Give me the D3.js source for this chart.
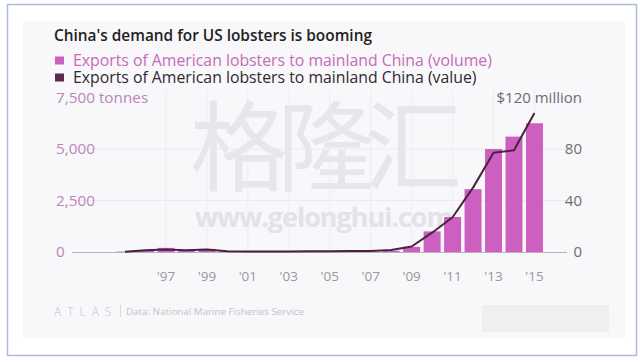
<!DOCTYPE html>
<html>
<head>
<meta charset="utf-8">
<script src="https://cdn.jsdelivr.net/npm/d3@7"></script>
<style>
  body { margin: 0; background: #fff; }
  svg { display: block; font-family: "Open Sans", sans-serif; }
</style>
</head>
<body>
<svg id="chart" width="640" height="362"></svg>
<script>
// data
var years = [1995, 1996, 1997, 1998, 1999, 2000, 2001, 2002, 2003, 2004,
             2005, 2006, 2007, 2008, 2009, 2010, 2011, 2012, 2013, 2014, 2015];
// volume, tonnes
var volume = [20, 60, 200, 60, 150, 30, 15, 15, 15, 15,
              15, 20, 20, 60, 250, 1000, 1700, 3050, 5000, 5600, 6250];
// value, $ million
var value = [0.2, 1.4, 2.0, 1.3, 2.0, 0.6, 0.4, 0.4, 0.4, 0.5,
             0.6, 0.8, 0.7, 1.6, 4.3, 15, 27, 50, 77, 79, 108];
var yearTicks = [1997, 1999, 2001, 2003, 2005, 2007, 2009, 2011, 2013, 2015];
var volumeTicks = [0, 2500, 5000, 7500];
var valueTicks = [0, 40, 80, 120];

var pink = "#cd5fc1", plum = "#4a2340";

var svg = d3.select("#chart");

// frame + grey panel
svg.append("rect").attr("x", 7.5).attr("y", 4.5).attr("width", 629).attr("height", 351)
    .attr("fill", "#fff").attr("stroke", "#aebbe0").attr("stroke-width", 1.5);
svg.append("rect").attr("x", 23).attr("y", 21).attr("width", 602).attr("height", 317)
    .attr("fill", "#f8f7fa");

// scales
var x = d3.scaleBand().domain(years).range([114.8, 544.7]).paddingInner(0.17).paddingOuter(0.085);
var yVol = d3.scaleLinear().domain([0, 7500]).range([252, 97.5]);
var yVal = d3.scaleLinear().domain([0, 120]).range([252, 97.5]);
var cx = function (d) { return x(d) + x.bandwidth() / 2; };

// faint grid
svg.append("g").selectAll("line").data(yearTicks).enter().append("line")
    .attr("x1", cx).attr("x2", cx).attr("y1", 90).attr("y2", 252)
    .attr("stroke", "#eeedf1").attr("stroke-width", 1);
svg.append("g").selectAll("line").data([2500, 5000]).enter().append("line")
    .attr("x1", 72).attr("x2", 567)
    .attr("y1", function (d) { return yVol(d); }).attr("y2", function (d) { return yVol(d); })
    .attr("stroke", "#ebeaee").attr("stroke-width", 1);

// watermark
svg.append("text").attr("x", 190).attr("y", 183)
    .attr("font-family", "Noto Sans CJK SC").attr("font-weight", 400).attr("font-size", 98)
    .attr("textLength", 272).attr("fill", "#e7e6ea").text("格隆汇");
svg.append("text").attr("x", 195).attr("y", 227)
    .attr("font-weight", 700).attr("font-size", 27)
    .attr("textLength", 258).attr("fill", "#e3e2e6").text("www.gelonghui.com");

// zero line
svg.append("line").attr("x1", 72).attr("x2", 567).attr("y1", 252.5).attr("y2", 252.5)
    .attr("stroke", "#b4b3b8").attr("stroke-width", 1);

// bars
svg.append("g").selectAll("rect").data(years).enter().append("rect")
    .attr("x", function (d) { return x(d); })
    .attr("width", x.bandwidth())
    .attr("y", function (d, i) { return yVol(volume[i]); })
    .attr("height", function (d, i) { return 252 - yVol(volume[i]); })
    .attr("fill", pink);

// value line
var line = d3.line()
    .x(function (d) { return cx(d); })
    .y(function (d, i) { return yVal(value[i]); });
svg.append("path").datum(years).attr("d", line)
    .attr("fill", "none").attr("stroke", plum).attr("stroke-width", 2)
    .attr("stroke-linejoin", "round");

// left axis (volume)
var leftAxis = svg.append("g").attr("transform", "translate(56,0)")
    .call(d3.axisRight(yVol).tickValues(volumeTicks).tickSize(0).tickPadding(0)
        .tickFormat(function (d) { return d === 7500 ? "7,500 tonnes" : d3.format(",")(d); }));
leftAxis.select(".domain").remove();
leftAxis.selectAll("text").attr("fill", "#bb86b8").attr("font-size", 15.3)
    .attr("font-family", "Open Sans");

// right axis (value)
var rightAxis = svg.append("g").attr("transform", "translate(582,0)")
    .call(d3.axisLeft(yVal).tickValues(valueTicks).tickSize(0).tickPadding(0)
        .tickFormat(function (d) { return d === 120 ? "$120 million" : d; }));
rightAxis.select(".domain").remove();
rightAxis.selectAll("text").attr("fill", "#6f6c72").attr("font-size", 15)
    .attr("font-family", "Open Sans");

// year axis
var xAxis = svg.append("g").attr("transform", "translate(0,271.5)")
    .call(d3.axisBottom(x).tickValues(yearTicks).tickSize(0).tickPadding(0)
        .tickFormat(function (d) { return "'" + String(d).slice(2); }));
xAxis.select(".domain").remove();
xAxis.selectAll("text").attr("fill", "#9a989d").attr("font-size", 13.5)
    .attr("font-family", "Open Sans");

// title + legend
svg.append("text").attr("x", 54).attr("y", 41).attr("font-size", 15.4)
    .attr("font-weight", 600).attr("fill", "#222").text("China's demand for US lobsters is booming");

var legend = [
    { label: "Exports of American lobsters to mainland China (volume)", box: pink, ink: "#c56bba" },
    { label: "Exports of American lobsters to mainland China (value)", box: "#5b2b4d", ink: "#2e2a30" }
];
var lg = svg.append("g").selectAll("g").data(legend).enter().append("g")
    .attr("transform", function (d, i) { return "translate(55," + (56.5 + i * 17) + ")"; });
lg.append("rect").attr("width", 9).attr("height", 8).attr("fill", function (d) { return d.box; });
lg.append("text").attr("x", 18).attr("y", 9.5).attr("font-size", 15.8)
    .attr("fill", function (d) { return d.ink; }).text(function (d) { return d.label; });

// footer
svg.append("text").attr("x", 54).attr("y", 315.5).attr("font-size", 12)
    .attr("letter-spacing", 6).attr("fill", "#c6c5ca").attr("font-weight", 300).text("ATLAS");
svg.append("line").attr("x1", 120.5).attr("x2", 120.5).attr("y1", 305).attr("y2", 317)
    .attr("stroke", "#d8d7dc");
svg.append("text").attr("x", 126).attr("y", 314.5).attr("font-size", 9.8)
    .attr("fill", "#c4c3c8").text("Data: National Marine Fisheries Service");
svg.append("rect").attr("x", 482).attr("y", 305).attr("width", 127).attr("height", 27)
    .attr("fill", "#efeef1");
</script>
</body>
</html>
